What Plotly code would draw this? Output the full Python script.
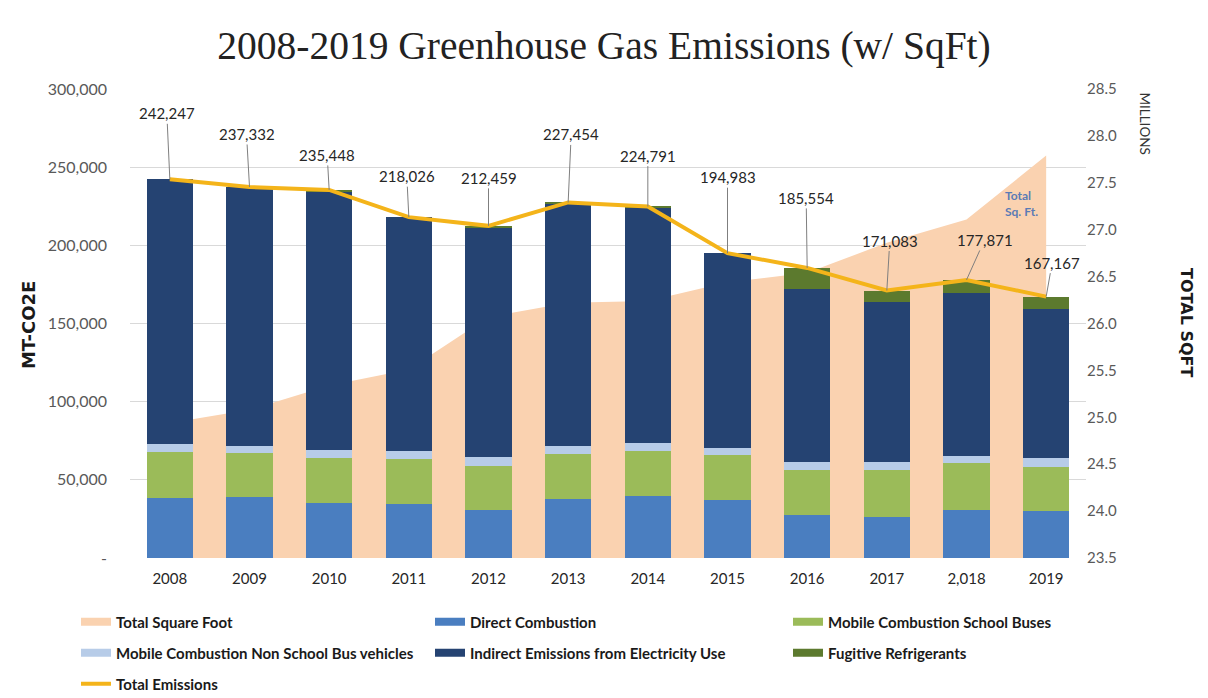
import plotly.graph_objects as go

# ---------------- data ----------------
years = ["2008", "2009", "2010", "2011", "2012", "2013", "2014", "2015", "2016", "2017", "2,018", "2019"]
total_sqft_millions = [24.94, 25.08, 25.34, 25.51, 26.07, 26.22, 26.24, 26.44, 26.54, 26.86, 27.11, 27.79]
direct_combustion = [38300, 39000, 35100, 34700, 30800, 37700, 39800, 37200, 27600, 26200, 30800, 29800]
mobile_school_buses = [29800, 28000, 28800, 28500, 28100, 28900, 28900, 28800, 28800, 30200, 29900, 28700]
mobile_non_school = [4900, 4700, 5300, 5300, 5600, 5100, 5100, 4400, 4900, 4900, 4600, 5400]
fugitive_refrigerants = [0, 0, 1000, 0, 800, 1000, 800, 0, 13800, 7200, 8300, 7600]
total_emissions = [242247, 237332, 235448, 218026, 212459, 227454, 224791, 194983, 185554, 171083, 177871, 167167]
indirect_electricity = [t - d - m - n - f for t, d, m, n, f in zip(
    total_emissions, direct_combustion, mobile_school_buses, mobile_non_school, fugitive_refrigerants)]

left_tickvals = [0, 50000, 100000, 150000, 200000, 250000, 300000]
left_ticktext = ["-", "50,000", "100,000", "150,000", "200,000", "250,000", "300,000"]
right_tickvals = [23.5, 24.0, 24.5, 25.0, 25.5, 26.0, 26.5, 27.0, 27.5, 28.0, 28.5]

# label offsets (pixels) for callouts
label_dx = [-3, -3, -2, -2, 0, 3, 0, 0, -1, 3, 18, 6]
label_dy = [-66, -53, -35, -41, -48, -68, -51, -76, -70, -50, -40, -34]

# ---------------- styles ----------------
FONT = "Lato"
C_AREA = "#FAD2B0"
C_DIRECT = "#4A7EC0"
C_MSB = "#9BBB59"
C_MNSB = "#B7CCE8"
C_IND = "#254372"
C_FUG = "#5C7A2E"
C_LINE = "#F4B41A"

fig = go.Figure()

fig.add_trace(go.Scatter(
    x=years, y=total_sqft_millions, name="Total Square Foot", mode="lines",
    line=dict(width=0, color=C_AREA), fill="tozeroy", fillcolor=C_AREA,
    yaxis="y", showlegend=False))

bar_specs = [
    ("Direct Combustion", direct_combustion, C_DIRECT),
    ("Mobile Combustion School Buses", mobile_school_buses, C_MSB),
    ("Mobile Combustion Non School Bus vehicles", mobile_non_school, C_MNSB),
    ("Indirect Emissions from Electricity Use", indirect_electricity, C_IND),
    ("Fugitive Refrigerants", fugitive_refrigerants, C_FUG),
]
for name, vals, col in bar_specs:
    fig.add_trace(go.Bar(x=years, y=vals, name=name, marker=dict(color=col, line=dict(width=0)),
                         yaxis="y2", showlegend=False))

fig.add_trace(go.Scatter(
    x=years, y=total_emissions, name="Total Emissions", mode="lines",
    line=dict(color=C_LINE, width=4), yaxis="y2", showlegend=False))

# legend entries (wide rectangular swatches like the original), one legend box per entry
legend_entries = [
    ("Total Square Foot", C_AREA, 8, 76, 622),
    ("Direct Combustion", C_DIRECT, 8, 430, 622),
    ("Mobile Combustion School Buses", C_MSB, 8, 788, 622),
    ("Mobile Combustion Non School Bus vehicles", C_MNSB, 8, 76, 653),
    ("Indirect Emissions from Electricity Use", C_IND, 8, 430, 653),
    ("Fugitive Refrigerants", C_FUG, 8, 788, 653),
    ("Total Emissions", C_LINE, 4, 76, 684),
]

legend_layout = {}
for k, (name, col, w, lx, ly) in enumerate(legend_entries):
    key = "legend" if k == 0 else f"legend{k + 1}"
    fig.add_trace(go.Scatter(x=[None], y=[None], name=name, mode="lines",
                             line=dict(color=col, width=w), yaxis="y2", legend=key,
                             showlegend=True, hoverinfo="skip"))
    legend_layout[key] = dict(
        orientation="h", xref="container", yref="container", xanchor="left", yanchor="middle",
        x=lx / 1208, y=1 - ly / 698, bgcolor="rgba(0,0,0,0)", itemwidth=30,
        font=dict(family=FONT, size=15, color="#1a1a1a", weight="bold"))

annotations = []
for i, (tot, dx, dy) in enumerate(zip(total_emissions, label_dx, label_dy)):
    annotations.append(dict(
        x=i, y=tot, xref="x", yref="y2", text=f"{tot:,}", showarrow=True,
        arrowhead=0, arrowwidth=1, arrowcolor="#7F7F7F", ax=dx, ay=dy, standoff=0,
        font=dict(family=FONT, size=15, color="#262626")))

annotations += [
    dict(text="Total<br>Sq. Ft.", xref="paper", yref="paper", x=0.933, y=0.756,
         xanchor="center", yanchor="middle", showarrow=False,
         font=dict(family=FONT, size=12, color="#5A7BB5", weight="bold"), align="left"),
    dict(text="MT-CO2E", xref="paper", yref="paper", x=-0.1067, y=0.4966,
         xanchor="center", yanchor="middle", showarrow=False, textangle=-90,
         font=dict(family="DejaVu Sans", size=18, color="#1a1a1a", weight="bold")),
    dict(text="TOTAL SQFT", xref="paper", yref="paper", x=1.1056, y=0.5009,
         xanchor="center", yanchor="middle", showarrow=False, textangle=90,
         font=dict(family="DejaVu Sans", size=16, color="#1a1a1a", weight="bold")),
    dict(text="MILLIONS", xref="paper", yref="paper", x=1.0617, y=0.9266,
         xanchor="center", yanchor="middle", showarrow=False, textangle=90,
         font=dict(family=FONT, size=13.5, color="#333333")),
]

fig.update_layout(
    width=1208, height=698, autosize=False,
    paper_bgcolor="white", plot_bgcolor="white",
    margin=dict(l=130, r=122, t=88.5, b=139.7, autoexpand=False),
    barmode="stack", bargap=0.42,
    title=dict(text="2008-2019 Greenhouse Gas Emissions (w/ SqFt)", x=0.5, xanchor="center",
               xref="container", yref="container", y=1 - 45 / 698, yanchor="middle",
               font=dict(family="Liberation Serif", size=39.5, color="#222222")),
    xaxis=dict(type="category", showgrid=False, showline=False, ticks="",
               range=[-0.5, len(years) - 0.5], ticklabelstandoff=10,
               tickfont=dict(family=FONT, size=15, color="#262626")),
    yaxis=dict(side="right", range=[23.5, 28.5], tickvals=right_tickvals, tickformat=".1f",
               showgrid=False, zeroline=False, showline=False,
               tickfont=dict(family=FONT, size=15, color="#595959")),
    yaxis2=dict(side="left", overlaying="y", range=[0, 300000], tickvals=left_tickvals,
                ticktext=left_ticktext, showgrid=True, gridcolor="#D9D9D9", gridwidth=1,
                zeroline=False, showline=False, ticklabelstandoff=22,
                tickfont=dict(family=FONT, size=16, color="#595959")),
    annotations=annotations,
    **legend_layout,
)

fig.write_html("out.html", config={"displayModeBar": False},
               post_script="document.body.style.margin='0px';")
